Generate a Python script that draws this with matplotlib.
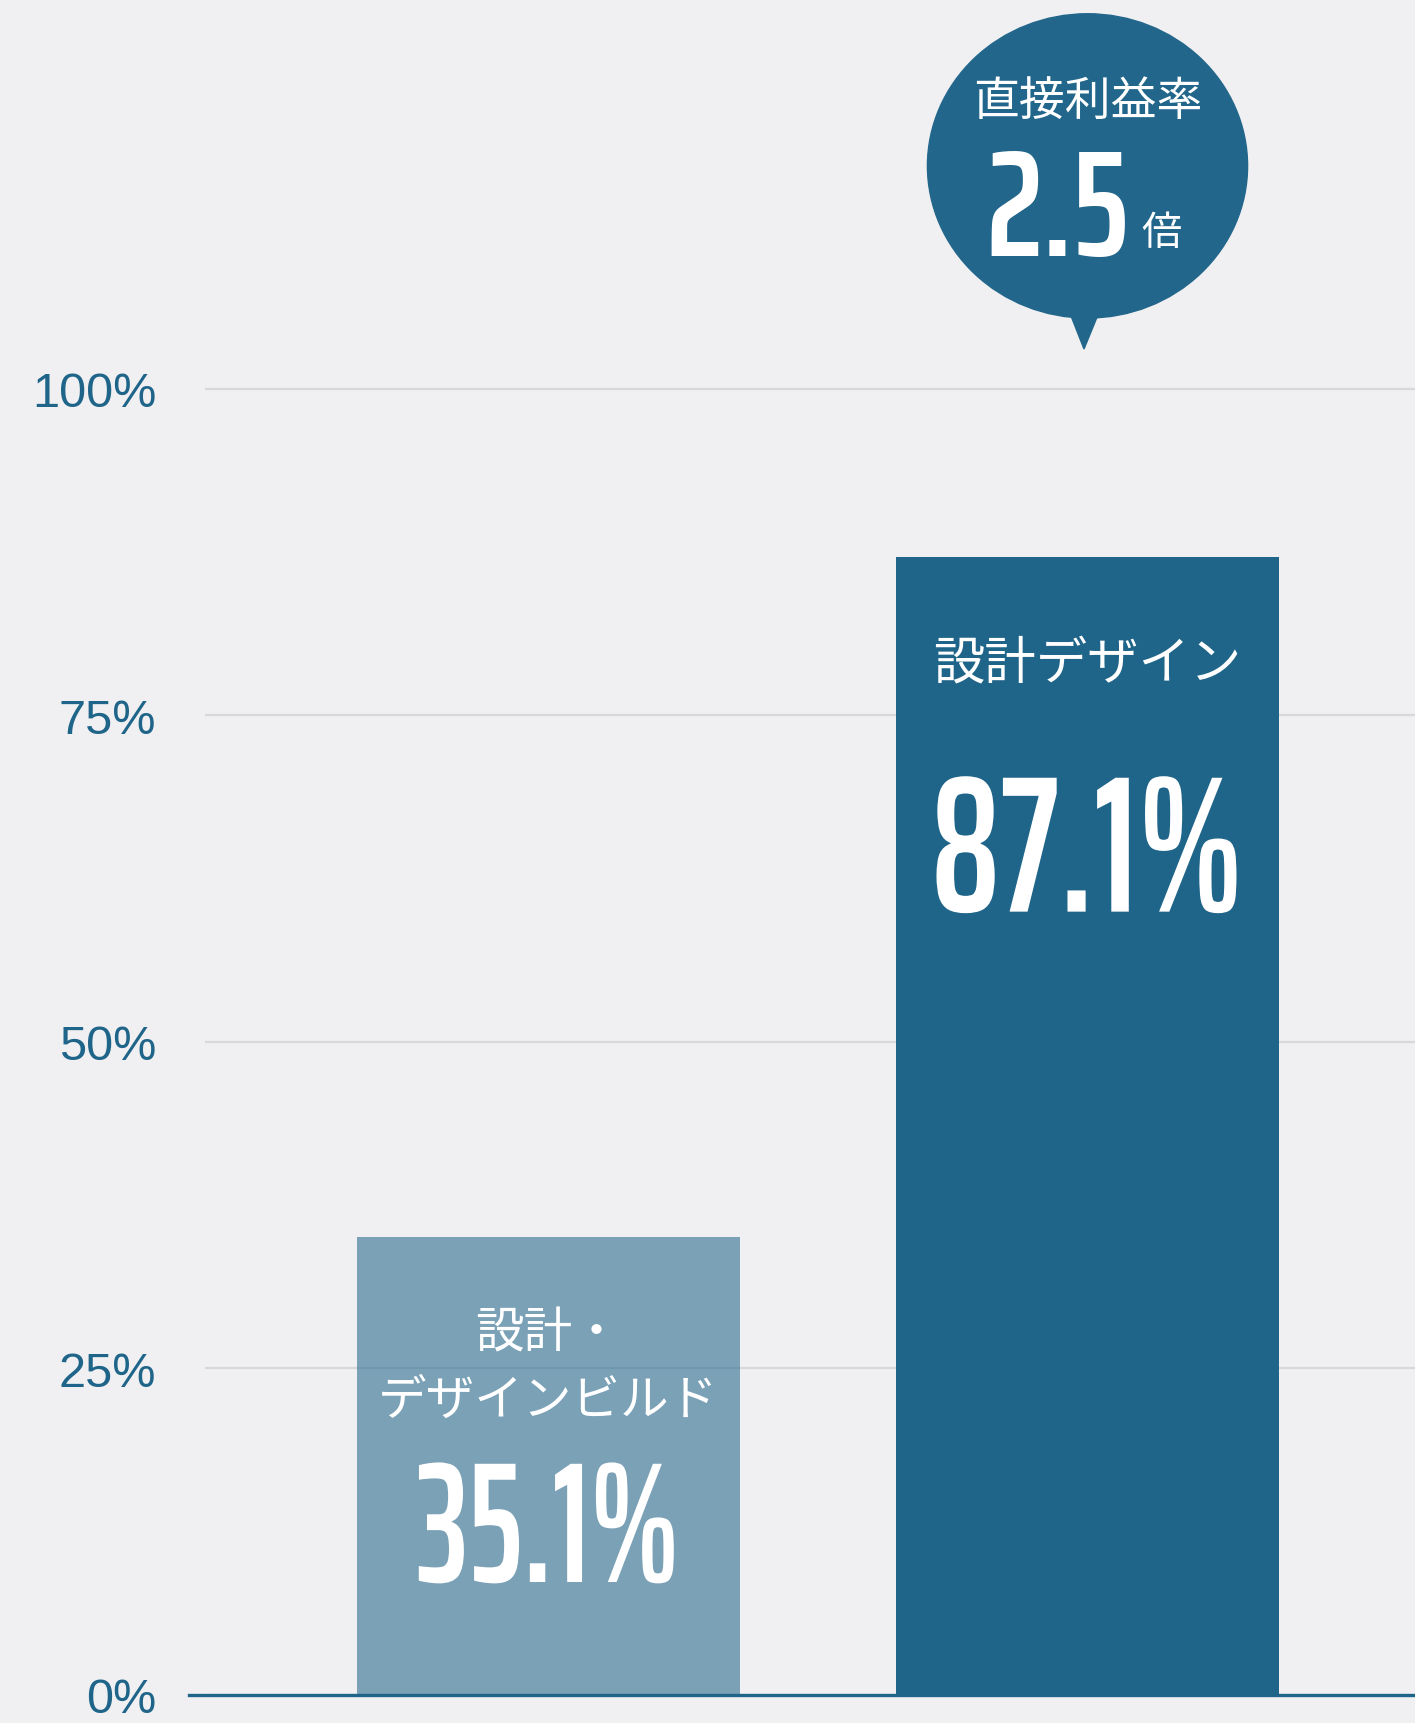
import matplotlib
matplotlib.use("Agg")
import matplotlib.pyplot as plt
from matplotlib import patheffects
from matplotlib.colors import to_rgba
from matplotlib.font_manager import FontProperties
from matplotlib.patches import Ellipse, Polygon
from matplotlib.textpath import TextPath
from matplotlib.transforms import Affine2D

plt.rcParams['font.family'] = ['Noto Sans CJK JP', 'DejaVu Sans']

# DATA
categories = ["設計・\nデザインビルド", "設計デザイン"]
values = [35.1, 87.1]
value_labels = ["35.1%", "87.1%"]
yticks = [0, 25, 50, 75, 100]
ytick_labels = ["0%", "25%", "50%", "75%", "100%"]
bubble_title = "直接利益率"
bubble_value = "2.5"
bubble_unit = "倍"

BG = "#f0f0f2"
DARK = "#1f6489"
GRID = "#d7d8dc"
DPI = 100
NUM_FONT = FontProperties(family=['Saira ExtraCondensed', 'Liberation Sans'], weight=600)


# squeeze glyphs horizontally if the condensed face is still too wide
class Squeeze(patheffects.AbstractPathEffect):
    def __init__(self, sx):
        super().__init__()
        self.sx = sx

    def draw_path(self, renderer, gc, tpath, affine, rgbFace=None):
        ext = tpath.get_extents()
        cx = (ext.x0 + ext.x1) / 2
        sq = Affine2D().translate(-cx, 0).scale(self.sx, 1).translate(cx, 0)
        renderer.draw_path(gc, tpath, sq + affine, rgbFace)


def big_number(ax, x, y, s, ink_h, ink_w, zorder):
    # pick the size so the digits are ink_h px tall, then fit the width
    digits = "".join(c for c in s if c.isdigit())
    h100 = TextPath((0, 0), digits, size=100, prop=NUM_FONT).get_extents().height
    fs = ink_h * 72 / DPI * 100 / h100
    w = TextPath((0, 0), s, size=fs, prop=NUM_FONT).get_extents().width * DPI / 72
    sx = min(1.0, ink_w / w)
    pe = [Squeeze(sx)] if sx < 0.98 else []
    return ax.text(x, y, s, ha='center', va='baseline', fontsize=fs,
                   fontproperties=NUM_FONT.copy(), color='white', zorder=zorder,
                   path_effects=pe)


fig = plt.figure(figsize=(14.15, 17.24), dpi=DPI, facecolor=BG)
ax = fig.add_axes([205 / 1415, 0, 1210 / 1415, 1], facecolor=BG)

x = [0, 1]
colors = [to_rgba(DARK, 0.56), to_rgba(DARK, 1.0)]
ax.bar(x, values, width=0.71, color=colors, zorder=2)

ax.set_xlim(-0.6373, 1.6076)
ax.set_ylim(-2.144, 129.86)
ax.set_xticks([])
ax.set_yticks(yticks, ytick_labels)
ax.tick_params(axis='y', length=0, pad=35, labelsize=35, labelcolor=DARK)
for lbl in ax.get_yticklabels():
    lbl.set_fontfamily('Liberation Sans')
ax.yaxis.grid(True, color=GRID, linewidth=1.6)
ax.set_axisbelow(True)
for s in ax.spines.values():
    s.set_visible(False)
ax.axhline(0, xmin=-16 / 1210, xmax=1, color=DARK, lw=2.4,
           clip_on=False, zorder=1.5)

# bar labels
ax.text(0, 25.15, categories[0], ha='center', va='center', fontsize=35,
        color='white', linespacing=1.45, zorder=3)
big_number(ax, 0, 8.65, value_labels[0], 121, 255, 3)
ax.text(1, 79.0, categories[1], ha='center', va='center', fontsize=37,
        color='white', zorder=3)
big_number(ax, 1, 59.98, value_labels[1], 137, 300, 3)

# speech bubble
bubble = Ellipse((1, 117.08), 0.594, 23.3, color="#22668b", clip_on=False, zorder=4)
ax.add_patch(bubble)
tail = Polygon([[0.956, 107.0], [1.0325, 107.0], [0.9935, 103.06]],
               closed=True, color="#22668b", clip_on=False, zorder=4)
ax.add_patch(tail)
ax.text(1, 122.05, bubble_title, ha='center', va='center', fontsize=33,
        color='white', zorder=5)
big_number(ax, 0.945, 110.26, bubble_value, 106, 132, 5)
ax.text(1.138, 112.0, bubble_unit, ha='center', va='center', fontsize=29,
        color='white', zorder=5)

fig.savefig("out.png", dpi=DPI, facecolor=BG)
